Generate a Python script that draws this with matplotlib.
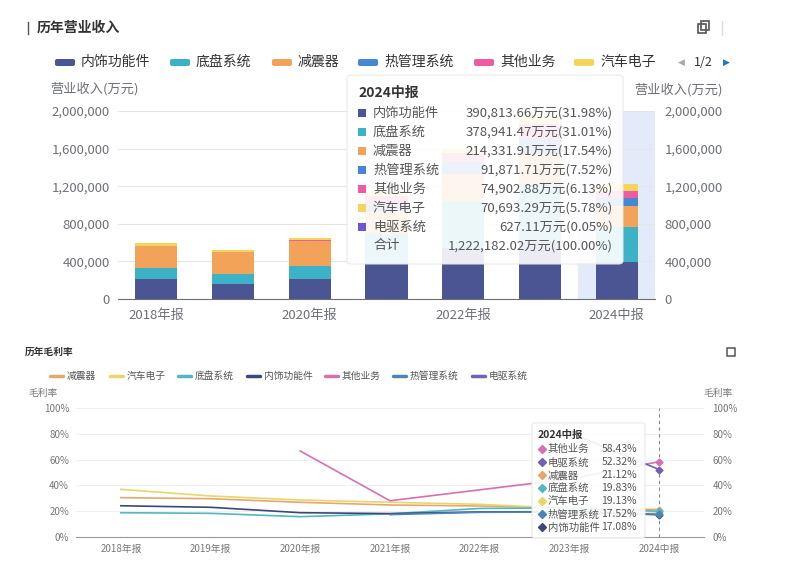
import matplotlib.pyplot as plt
from matplotlib.patches import FancyBboxPatch, Rectangle
from matplotlib.lines import Line2D
import numpy as np

plt.rcParams['font.family'] = ['Noto Sans CJK SC', 'DejaVu Sans']

# ---- data ----
periods = ['2018年报', '2019年报', '2020年报', '2021年报', '2022年报', '2023年报', '2024中报']

# revenue by segment (万元)
rev_names = ['内饰功能件', '底盘系统', '减震器', '热管理系统', '其他业务', '汽车电子', '电驱系统']
rev_interior = [218000, 161000, 218000, 376700, 546000, 605000, 390813.66]
rev_chassis = [115000, 102000, 132000, 318900, 497000, 614000, 378941.47]
rev_shock = [235000, 235000, 271000, 240500, 283000, 325000, 214331.91]
rev_thermal = [0, 0, 0, 56800, 128000, 163000, 91871.71]
rev_other = [0, 0, 5000, 100000, 97000, 150000, 74902.88]
rev_auto_elec = [24000, 20000, 25000, 53400, 48000, 113000, 70693.29]
rev_edrive = [0, 0, 0, 0, 0, 0, 627.11]
h1_total = 1222182.02
rev_ticks = [0, 400000, 800000, 1200000, 1600000, 2000000]

# gross margin (%)
gm_names = ['减震器', '汽车电子', '底盘系统', '内饰功能件', '其他业务', '热管理系统', '电驱系统']
gm_shock = [30.4, 29.6, 26.8, 24.7, 23.9, 22.5, 21.12]
gm_auto_elec = [36.9, 31.7, 28.6, 26.8, 25.2, 22.0, 19.13]
gm_chassis = [18.7, 18.2, 15.6, 17.8, 22.0, 22.5, 19.83]
gm_interior = [24.1, 22.9, 18.7, 18.0, 19.3, 19.5, 17.08]
gm_other = [np.nan, np.nan, 66.7, 28.0, 36.5, 45.0, 58.43]
gm_thermal = [np.nan, np.nan, np.nan, 17.2, 19.0, 19.3, 17.52]
gm_edrive = [np.nan, np.nan, np.nan, np.nan, np.nan, 81.0, 52.32]
gm_ticks = [0, 20, 40, 60, 80, 100]

rev_series = [rev_interior, rev_chassis, rev_shock, rev_thermal, rev_other, rev_auto_elec, rev_edrive]
rev_colors = ['#4b5594', '#3cb2c7', '#f3a25a', '#4587d1', '#ee5ba3', '#f3d55c', '#6b55d3']
gm_series = [gm_shock, gm_auto_elec, gm_chassis, gm_interior, gm_other, gm_thermal, gm_edrive]
gm_colors = ['#e5a86c', '#e9d56b', '#52b7c4', '#3e4878', '#d770b0', '#4c86b6', '#7060b6']

W, H = 787, 564
fig = plt.figure(figsize=(W / 100, H / 100), dpi=100)


def fx(x):
    return x / W


def fy(y):
    return 1 - y / H


def ax_rect(l, t, r, b):
    return [fx(l), fy(b), (r - l) / W, (b - t) / H]


grey = '#6e7079'

# ---- top chart: stacked bars ----
fig.add_artist(Line2D([fx(28), fx(28)], [fy(22), fy(34)], color='#555', lw=1))
fig.text(fx(37), fy(28), '历年营业收入', fontsize=10, fontweight='bold', color='#333', va='center')
fig.add_artist(Rectangle((fx(698), fy(33)), 8 / W, 9 / H, fill=False, ec='#555', lw=1.2))
fig.add_artist(Rectangle((fx(701), fy(30)), 8 / W, 9 / H, fill=False, ec='#555', lw=1.2))
fig.add_artist(Line2D([fx(722), fx(722)], [fy(21), fy(35)], color='#ddd', lw=1))

leg_patch_x = [55, 170, 272, 358, 474, 574]
for i in range(6):
    fig.add_artist(FancyBboxPatch((fx(leg_patch_x[i]), fy(66)), 20 / W, 7 / H,
                                  boxstyle='round,pad=0,rounding_size=0.003',
                                  fc=rev_colors[i], ec='none'))
    fig.text(fx(leg_patch_x[i] + 26), fy(62), rev_names[i], fontsize=10, color='#333', va='center')
fig.text(fx(681), fy(62), '◀', fontsize=6.5, color='#aaa', va='center', ha='center', family='DejaVu Sans')
fig.text(fx(703), fy(62), '1/2', fontsize=9, color='#333', va='center', ha='center')
fig.text(fx(726), fy(62), '▶', fontsize=6.5, color='#2f6fc5', va='center', ha='center', family='DejaVu Sans')

ax = fig.add_axes(ax_rect(118, 111, 655, 299))
x = np.arange(len(periods))
ax.axvspan(5.5, 6.5, color='#e3ebfb', zorder=0)
bottom = np.zeros(len(periods))
for vals, col in zip(rev_series, rev_colors):
    ax.bar(x, vals, 0.55, bottom=bottom, color=col, zorder=2)
    bottom += np.array(vals)
ax.set_xlim(-0.5, 6.5)
ax.set_ylim(0, 2000000)
ax.set_yticks(rev_ticks)
ax.set_yticklabels([f'{v:,}' for v in rev_ticks])
ax.set_xticks(x[::2])
ax.set_xticklabels(periods[::2])
ax.grid(axis='y', color='#e6e6e6', lw=0.8, zorder=0)
for s in ['top', 'left', 'right']:
    ax.spines[s].set_visible(False)
ax.spines['bottom'].set_color(grey)
ax.tick_params(axis='both', length=0, labelsize=9.5, colors='#6e7079', pad=6)
ax.tick_params(axis='x', pad=7)
ax2 = ax.twinx()
ax2.set_ylim(0, 2000000)
ax2.set_yticks(rev_ticks)
ax2.set_yticklabels([f'{v:,}' for v in rev_ticks])
for s in ['top', 'left', 'right', 'bottom']:
    ax2.spines[s].set_visible(False)
ax2.tick_params(axis='y', length=0, labelsize=9.5, colors='#6e7079', pad=7)
fig.text(fx(50), fy(89), '营业收入(万元)', fontsize=9.5, color='#6e7079', va='center')
fig.text(fx(723), fy(90), '营业收入(万元)', fontsize=9.5, color='#6e7079', va='center', ha='right')

# top tooltip
fig.add_artist(FancyBboxPatch((fx(347), fy(264)), 276 / W, 189 / H,
                              boxstyle='round,pad=0,rounding_size=0.006',
                              fc='white', ec='#e8e8e8', lw=0.8, alpha=0.9, zorder=5))
fig.text(fx(358), fy(93), periods[-1], fontsize=10, fontweight='bold', color='#333', va='center', zorder=6)
row_y = [113, 132, 151, 170, 189, 208, 227]
for i, (name, vals, col) in enumerate(zip(rev_names, rev_series, rev_colors)):
    v = vals[-1]
    fig.add_artist(Rectangle((fx(358), fy(row_y[i] + 4)), 8 / W, 8 / H, fc=col, ec='none', zorder=6))
    fig.text(fx(373), fy(row_y[i]), name, fontsize=9.5, color='#555', va='center', zorder=6)
    fig.text(fx(613), fy(row_y[i]), f'{v:,.2f}万元({v / h1_total * 100:.2f}%)',
             fontsize=9.5, color='#555', va='center', ha='right', zorder=6)
fig.text(fx(373), fy(246), '合计', fontsize=9.5, color='#555', va='center', zorder=6)
fig.text(fx(613), fy(246), f'{h1_total:,.2f}万元(100.00%)', fontsize=9.5, color='#555',
         va='center', ha='right', zorder=6)

# ---- bottom chart: gross margin lines ----
fig.text(fx(25), fy(352), '历年毛利率', fontsize=7, fontweight='bold', color='#333', va='center')
fig.add_artist(Rectangle((fx(727), fy(356)), 8 / W, 8 / H, fill=False, ec='#555', lw=1.1))

leg_line_x = [50, 110, 178, 247, 325, 393, 472]
for i in range(7):
    fig.add_artist(Line2D([fx(leg_line_x[i]), fx(leg_line_x[i] + 13)], [fy(376), fy(376)],
                          color=gm_colors[i], lw=2.5, solid_capstyle='round'))
    fig.text(fx(leg_line_x[i] + 17), fy(376), gm_names[i], fontsize=7, color='#555', va='center')

bx = fig.add_axes(ax_rect(76, 408.3, 704, 536.7))
for vals, col in zip(gm_series, gm_colors):
    bx.plot(x, vals, color=col, lw=1.2, zorder=3)
    bx.plot(x[-1], vals[-1], marker='D', ms=3.5, color=col, zorder=4)
bx.axvline(6, color='#888', lw=0.8, ls=(0, (3, 3)), zorder=2)
bx.set_xlim(-0.5, 6.5)
bx.set_ylim(0, 100)
bx.set_yticks(gm_ticks)
bx.set_yticklabels([f'{v}%' for v in gm_ticks])
bx.set_xticks(x)
bx.set_xticklabels(periods)
bx.grid(axis='y', color='#f0f0f0', lw=0.8, zorder=0)
for s in ['top', 'left', 'right']:
    bx.spines[s].set_visible(False)
bx.spines['bottom'].set_color('#999')
bx.tick_params(axis='both', length=0, labelsize=7, colors='#777', pad=5)
bx2 = bx.twinx()
bx2.set_ylim(0, 100)
bx2.set_yticks(gm_ticks)
bx2.set_yticklabels([f'{v}%' for v in gm_ticks])
for s in ['top', 'left', 'right', 'bottom']:
    bx2.spines[s].set_visible(False)
bx2.tick_params(axis='y', length=0, labelsize=7, colors='#777', pad=6)
fig.text(fx(28), fy(393), '毛利率', fontsize=7, color='#777', va='center')
fig.text(fx(733), fy(393), '毛利率', fontsize=7, color='#777', va='center', ha='right')

# bottom tooltip, sorted by value
fig.add_artist(FancyBboxPatch((fx(532), fy(538)), 113 / W, 115 / H,
                              boxstyle='round,pad=0,rounding_size=0.004',
                              fc='white', ec='#e8e8e8', lw=0.8, alpha=0.9, zorder=5))
fig.text(fx(538), fy(435), periods[-1], fontsize=7.5, fontweight='bold', color='#333', va='center', zorder=6)
order = sorted(range(7), key=lambda k: -gm_series[k][-1])
for j, k in enumerate(order):
    yy = 449.3 + j * 13
    fig.add_artist(Line2D([fx(542)], [fy(yy)], marker='D', ms=4, color=gm_colors[k], zorder=6))
    fig.text(fx(548), fy(yy), gm_names[k], fontsize=7.5, color='#555', va='center', zorder=6)
    fig.text(fx(637), fy(yy), f'{gm_series[k][-1]:.2f}%', fontsize=7.5, color='#555',
             va='center', ha='right', zorder=6)

fig.savefig('out.png', dpi=100)
